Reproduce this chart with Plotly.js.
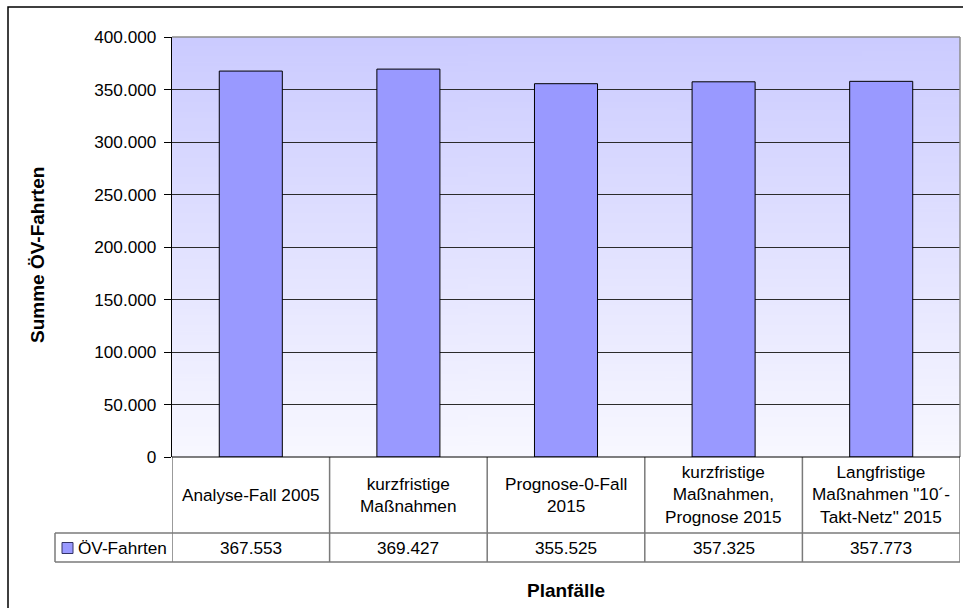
<!DOCTYPE html>
<html>
<head>
<meta charset="utf-8">
<script src="https://cdn.plot.ly/plotly-3.0.1.min.js"></script>
<style>html,body{margin:0;padding:0;background:#fff;}#chart{width:963px;height:608px;}</style>
</head>
<body>
<div id="chart"></div>
<script>
// ---- data ----
const categories = ["Analyse-Fall 2005", "kurzfristige Maßnahmen", "Prognose-0-Fall 2015", "kurzfristige Maßnahmen, Prognose 2015", "Langfristige Maßnahmen \"10´-Takt-Netz\" 2015"];
const categoryLabels = ["Analyse-Fall 2005", "kurzfristige<br>Maßnahmen", "Prognose-0-Fall<br>2015", "kurzfristige<br>Maßnahmen,<br>Prognose 2015", "Langfristige<br>Maßnahmen \"10´-<br>Takt-Netz\" 2015"];
const seriesName = "ÖV-Fahrten";
const values = [367553, 369427, 355525, 357325, 357773];
const valueLabels = ["367.553", "369.427", "355.525", "357.325", "357.773"];
const yTitle = "Summe ÖV-Fahrten";
const xTitle = "Planfälle";

// ---- geometry helpers (layout only) ----
const W = 963, H = 608;
const L = 172, R = 3, T = 37, B = 151;
const PW = W - L - R, PH = H - T - B;
const px = v => (v - L) / PW;          // pixel x -> paper x
const py = v => (H - B - v) / PH;      // pixel y -> paper y

const FONT = "Arial, 'Liberation Sans', sans-serif";
const FS = 17.2;
const FSB = 19;
const LINE = "#7a7a7a";

// gradient background image
const cv = document.createElement("canvas");
cv.width = 4; cv.height = 256;
const cx = cv.getContext("2d");
const g = cx.createLinearGradient(0, 0, 0, 256);
g.addColorStop(0, "#CBCBFF");
g.addColorStop(1, "#F8F8FF");
cx.fillStyle = g; cx.fillRect(0, 0, 4, 256);
const bgURL = cv.toDataURL("image/png");

const trace = {
  type: "bar",
  x: categories,
  y: values,
  name: seriesName,
  marker: {color: "#9999FF", line: {color: "#000000", width: 1}},
  hoverinfo: "x+y"
};

const shapes = [];
// plot area border (top & right gray)
shapes.push({type: "line", xref: "paper", yref: "paper", x0: 0, x1: 1, y0: 1, y1: 1, line: {color: "#8c8c8c", width: 1.5}, layer: "above"});
shapes.push({type: "line", xref: "paper", yref: "paper", x0: 1, x1: 1, y0: 0, y1: 1, line: {color: "#8c8c8c", width: 1.5}, layer: "above"});
// outer chart border
shapes.push({type: "rect", xref: "paper", yref: "paper", x0: px(8), x1: px(980), y0: py(7), y1: py(620), line: {color: "#000000", width: 1.5}});
// table vertical lines at category boundaries
for (let i = 0; i <= categories.length; i++) {
  shapes.push({type: "line", xref: "x", yref: "paper", x0: i - 0.5, x1: i - 0.5, y0: py(457), y1: py(562), line: {color: LINE, width: 1.5}});
}
// horizontal table lines
shapes.push({type: "line", xref: "paper", yref: "paper", x0: px(55), x1: 1, y0: py(533), y1: py(533), line: {color: LINE, width: 1.5}});
shapes.push({type: "line", xref: "paper", yref: "paper", x0: px(55), x1: 1, y0: py(562), y1: py(562), line: {color: LINE, width: 1.5}});
shapes.push({type: "line", xref: "paper", yref: "paper", x0: px(55), x1: px(55), y0: py(533), y1: py(562), line: {color: LINE, width: 1.5}});
// legend swatch
shapes.push({type: "rect", xref: "paper", yref: "paper", x0: px(62), x1: px(73), y0: py(542.5), y1: py(553.5), fillcolor: "#9999FF", line: {color: "#333366", width: 1}});
// x axis line on top
shapes.push({type: "line", xref: "paper", yref: "paper", x0: 0, x1: 1, y0: 0, y1: 0, line: {color: "#000000", width: 1.2}});

const annotations = [];
categories.forEach((c, i) => {
  annotations.push({xref: "x", yref: "paper", x: c, y: py(495), text: categoryLabels[i], showarrow: false, xanchor: "center", yanchor: "middle", align: "center", font: {family: FONT, size: FS, color: "#000"}});
  annotations.push({xref: "x", yref: "paper", x: c, y: py(548), text: valueLabels[i], showarrow: false, xanchor: "center", yanchor: "middle", font: {family: FONT, size: FS, color: "#000"}});
});
annotations.push({xref: "paper", yref: "paper", x: px(76), y: py(548), text: seriesName, showarrow: false, xanchor: "left", yanchor: "middle", font: {family: FONT, size: FS, color: "#000"}});
annotations.push({xref: "paper", yref: "paper", x: px(38), y: py(255), text: "<b>" + yTitle + "</b>", textangle: -90, showarrow: false, xanchor: "center", yanchor: "middle", font: {family: FONT, size: FSB, color: "#000"}});
annotations.push({xref: "paper", yref: "paper", x: px(566), y: py(590), text: "<b>" + xTitle + "</b>", showarrow: false, xanchor: "center", yanchor: "middle", font: {family: FONT, size: FSB, color: "#000"}});

const layout = {
  width: W, height: H,
  margin: {l: L, r: R, t: T, b: B, pad: 0},
  paper_bgcolor: "#ffffff",
  plot_bgcolor: "rgba(0,0,0,0)",
  separators: ",.",
  showlegend: false,
  bargap: 0.6,
  font: {family: FONT, size: FS, color: "#000"},
  xaxis: {
    type: "category",
    range: [-0.5, categories.length - 0.5],
    showticklabels: false,
    ticks: "",
    showgrid: false,
    showline: false,
    zeroline: false,
    fixedrange: true
  },
  yaxis: {
    range: [0, 400000],
    dtick: 50000,
    tickformat: ",.0f",
    ticks: "outside",
    ticklen: 7,
    tickcolor: "#000",
    ticklabelstandoff: 4,
    showgrid: true,
    gridcolor: "#2b2b2b",
    gridwidth: 1,
    showline: true,
    linecolor: "#000",
    linewidth: 1.2,
    zeroline: false,
    tickfont: {family: FONT, size: FS, color: "#000"},
    fixedrange: true
  },
  images: [{source: bgURL, xref: "paper", yref: "paper", x: 0, y: 1, sizex: 1, sizey: 1, sizing: "stretch", xanchor: "left", yanchor: "top", layer: "below"}],
  shapes: shapes,
  annotations: annotations
};

Plotly.newPlot("chart", [trace], layout, {displayModeBar: false, staticPlot: true});
</script>
</body>
</html>
